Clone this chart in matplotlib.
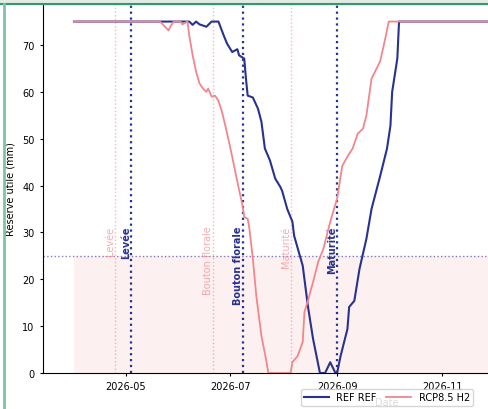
import numpy as np
import matplotlib
matplotlib.use('Agg')
import matplotlib.pyplot as plt
import matplotlib.dates as mdates
from matplotlib.lines import Line2D
from matplotlib.patches import Rectangle

# Day offsets are counted from 2026-04-01
start = np.datetime64('2026-04-01')

ref_days = [0, 48, 67, 69, 71, 73, 77, 80, 84, 87, 89, 92, 95, 96, 99, 100, 101,
            104, 107, 109, 111, 113, 114, 117, 120, 121, 124, 127, 128, 133, 136,
            139, 143, 146, 149, 152, 153, 155, 159, 160, 163, 166, 170, 173, 178,
            182, 184, 185, 188, 189, 364]
ref_vals = [75, 75, 75, 74.3, 75, 74.4, 73.9, 75, 75, 72.1, 70.3, 68.5, 69.1, 67.8,
            67.1, 62.8, 59.2, 58.8, 56.4, 53.6, 47.9, 46.2, 45.3, 41.5, 39.7, 38.9,
            35.0, 32.3, 29.3, 22.9, 14.3, 7.3, 0, 0, 2.3, 0, 0, 3.6, 9.4, 14.1,
            15.4, 22.2, 28.6, 35.0, 42.0, 47.9, 52.8, 60.0, 67.1, 75, 75]

rcp_days = [0, 50, 55, 56, 58, 62, 63, 66, 67, 69, 71, 73, 75, 77, 78, 80, 82, 84,
            86, 88, 91, 95, 98, 99, 101, 102, 104, 106, 109, 112, 113, 126, 127,
            130, 133, 134, 136, 139, 142, 145, 149, 153, 156, 159, 162, 165, 168,
            170, 173, 178, 181, 183, 364]
rcp_vals = [75, 75, 73.1, 73.9, 75, 75, 74.4, 75, 72.1, 67.8, 64.3, 61.8, 60.7,
            60.0, 60.7, 59.0, 59.2, 58.1, 55.8, 52.8, 47.9, 40.8, 35.7, 33.3, 32.9,
            30.8, 24.4, 16.5, 7.9, 2.3, 0, 0, 2.3, 3.6, 6.6, 13.0, 15.4, 19.4, 23.7,
            26.5, 32.3, 37.2, 44.2, 46.2, 47.9, 51.1, 52.1, 54.9, 62.8, 66.5, 71.4,
            75, 75]

# phenological stages (day offsets)
stages = ['Levée', 'Bouton florale', 'Maturité']
ref_stage_days = [33, 98, 153]
rcp_stage_days = [24, 81, 126]

threshold = 25
ru_max = 75

blue = '#28328f'
pink = '#f3868d'

ref_dates = start + np.array(ref_days, dtype='timedelta64[D]')
rcp_dates = start + np.array(rcp_days, dtype='timedelta64[D]')
full = start + np.arange(0, 365).astype('timedelta64[D]')

plt.rcParams['font.size'] = 7

fig = plt.figure(figsize=(4.88, 4.10), dpi=100)
ax = fig.add_axes([43 / 488, 36 / 410, 688 / 488, 369 / 410])

# stress zone
ax.fill_between(full, 0, threshold, color=pink, alpha=0.12, lw=0)
ax.axhline(threshold, color=blue, ls=':', lw=1, alpha=0.6)

ax.plot(ref_dates, ref_vals, color=blue, lw=1.5, label='REF REF', zorder=3)
ax.plot(rcp_dates, rcp_vals, color=pink, lw=1.3, label='RCP8.5 H2', zorder=4)

tr = ax.get_xaxis_transform()
for name, d in zip(stages, rcp_stage_days):
    x = start + np.timedelta64(d, 'D')
    ax.axvline(x, color=pink, ls=':', lw=1, alpha=0.6)
    ax.text(x, 0.4, name, rotation=90, ha='right', va='top', color=pink,
            alpha=0.7, fontsize=7, transform=tr)
for name, d in zip(stages, ref_stage_days):
    x = start + np.timedelta64(d, 'D')
    ax.axvline(x, color=blue, ls=':', lw=1.6)
    ax.text(x, 0.4, name, rotation=90, ha='right', va='top', color=blue,
            fontsize=7, fontweight='bold', transform=tr)

ax.set_xlim(full[0] - np.timedelta64(18, 'D'), full[-1] + np.timedelta64(18, 'D'))
ax.set_ylim(0, ru_max * 1.05)
ax.xaxis.set_major_locator(mdates.MonthLocator(bymonth=[5, 7, 9, 11]))
ax.xaxis.set_major_formatter(mdates.DateFormatter('%Y-%m'))
ax.tick_params(length=2.5, labelsize=7)
ax.set_xlabel('Date', color='#555555')
ax.set_ylabel('Réserve utile (mm)')
ax.legend(loc='upper center', bbox_to_anchor=(0.5, -0.03), ncol=2,
          fontsize=7, framealpha=0.8, handlelength=2.5, columnspacing=1.0,
          borderpad=0.35)

# screenshot frame
fig.add_artist(Rectangle((0, 1 - 5 / 410), 1, 5 / 410, transform=fig.transFigure,
                         color='#e4e9e6', lw=0))
fig.add_artist(Line2D([0, 1], [1 - 5 / 410] * 2, transform=fig.transFigure,
                      color='#2f9a6c', lw=1.5))
fig.add_artist(Line2D([4 / 488] * 2, [0, 1 - 5 / 410], transform=fig.transFigure,
                      color='#7cc4a4', lw=2))

fig.savefig('out.png', dpi=100)
